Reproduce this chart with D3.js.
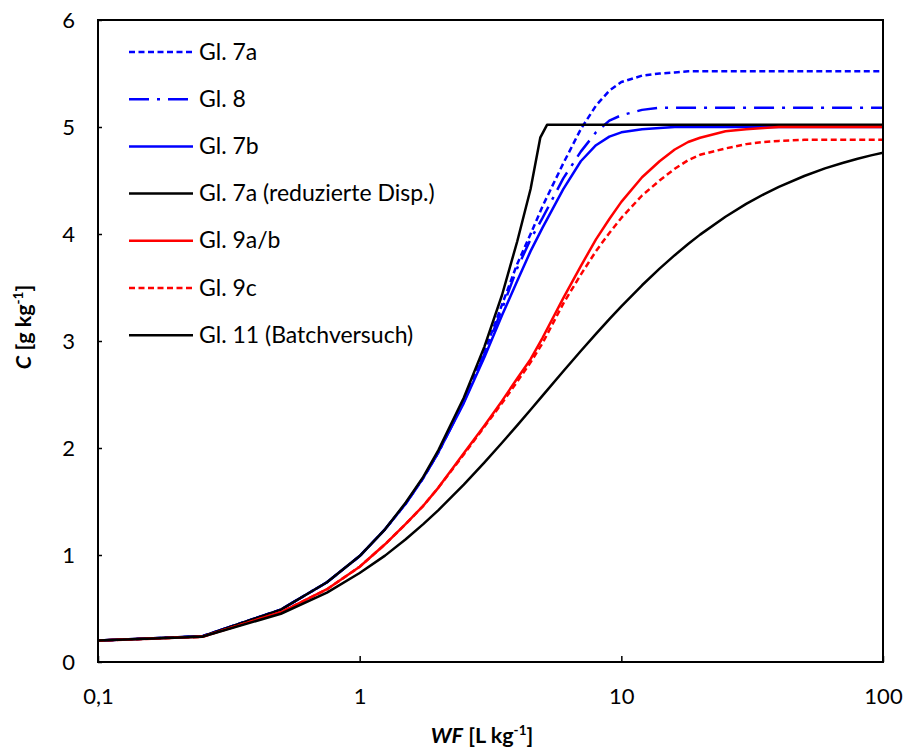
<!DOCTYPE html>
<html>
<head>
<meta charset="utf-8">
<script src="https://cdn.jsdelivr.net/npm/d3@7"></script>
<style>
  html, body { margin: 0; padding: 0; background: #fff; }
  svg { display: block; font-family: Lato, "Open Sans", sans-serif; }
</style>
</head>
<body>
<svg id="chart" width="904" height="751"></svg>
<script>
// ---- data ----
const wf = [0.1, 0.25, 0.5, 0.75, 1, 1.25, 1.5, 1.75, 2, 2.5, 3, 3.5, 4, 4.5, 5, 6, 7, 8, 9, 10, 12, 14, 16, 18, 20, 25, 30, 35, 40, 50, 60, 70, 80, 90, 100];
const wfReduced = [0.1, 0.25, 0.5, 0.75, 1, 1.25, 1.5, 1.75, 2, 2.5, 3, 3.5, 4, 4.5, 4.9, 5.2, 6, 10, 20, 50, 100];

const gl7a  = [0.2, 0.24, 0.49, 0.745, 0.99, 1.24, 1.48, 1.72, 1.96, 2.44, 2.9, 3.34, 3.72, 4.0, 4.26, 4.66, 4.98, 5.2, 5.34, 5.42, 5.48, 5.5, 5.51, 5.52, 5.52, 5.52, 5.52, 5.52, 5.52, 5.52, 5.52, 5.52, 5.52, 5.52, 5.52];
const gl8   = [0.2, 0.24, 0.49, 0.745, 0.99, 1.24, 1.48, 1.72, 1.96, 2.43, 2.88, 3.3, 3.68, 3.95, 4.15, 4.52, 4.77, 4.95, 5.06, 5.11, 5.16, 5.18, 5.18, 5.18, 5.18, 5.18, 5.18, 5.18, 5.18, 5.18, 5.18, 5.18, 5.18, 5.18, 5.18];
const gl7b  = [0.2, 0.24, 0.49, 0.745, 0.99, 1.24, 1.48, 1.72, 1.96, 2.42, 2.85, 3.24, 3.56, 3.84, 4.06, 4.42, 4.68, 4.83, 4.91, 4.95, 4.98, 4.99, 5.0, 5.0, 5.0, 5.0, 5.0, 5.0, 5.0, 5.0, 5.0, 5.0, 5.0, 5.0, 5.0];
const gl7aReduced = [0.2, 0.24, 0.49, 0.745, 0.99, 1.24, 1.49, 1.73, 1.98, 2.47, 2.95, 3.43, 3.93, 4.42, 4.9, 5.02, 5.02, 5.02, 5.02, 5.02, 5.02];
const gl9ab = [0.2, 0.235, 0.465, 0.68, 0.89, 1.1, 1.29, 1.46, 1.63, 1.95, 2.21, 2.44, 2.65, 2.83, 3.03, 3.4, 3.7, 3.95, 4.14, 4.3, 4.53, 4.68, 4.79, 4.86, 4.9, 4.96, 4.98, 4.99, 5.0, 5.0, 5.0, 5.0, 5.0, 5.0, 5.0];
const gl9c  = [0.2, 0.235, 0.465, 0.68, 0.89, 1.1, 1.29, 1.46, 1.63, 1.94, 2.2, 2.42, 2.62, 2.8, 2.98, 3.35, 3.62, 3.84, 4.01, 4.15, 4.36, 4.5, 4.61, 4.69, 4.74, 4.8, 4.84, 4.86, 4.87, 4.88, 4.88, 4.88, 4.88, 4.88, 4.88];
const gl11  = [0.2, 0.236, 0.451, 0.648, 0.832, 0.994, 1.147, 1.289, 1.42, 1.658, 1.866, 2.049, 2.212, 2.358, 2.49, 2.717, 2.907, 3.067, 3.205, 3.324, 3.521, 3.676, 3.802, 3.906, 3.994, 4.161, 4.281, 4.371, 4.44, 4.542, 4.613, 4.664, 4.704, 4.735, 4.76];

const seriesNames = ["Gl. 7a", "Gl. 8", "Gl. 7b", "Gl. 7a (reduzierte Disp.)", "Gl. 9a/b", "Gl. 9c", "Gl. 11 (Batchversuch)"];
const xTickValues = [0.1, 1, 10, 100];
const xTickLabels = ["0,1", "1", "10", "100"];
const yTickValues = [0, 1, 2, 3, 4, 5, 6];

// ---- styles ----
const series = [
  { name: seriesNames[0], x: wf, y: gl7a, color: "#0000ff", dash: "6,3.5" },
  { name: seriesNames[1], x: wf, y: gl8, color: "#0000ff", dash: "20,8,3,8" },
  { name: seriesNames[2], x: wf, y: gl7b, color: "#0000ff", dash: null },
  { name: seriesNames[3], x: wfReduced, y: gl7aReduced, color: "#000000", dash: null },
  { name: seriesNames[4], x: wf, y: gl9ab, color: "#ff0000", dash: null },
  { name: seriesNames[5], x: wf, y: gl9c, color: "#ff0000", dash: "6,3.5" },
  { name: seriesNames[6], x: wf, y: gl11, color: "#000000", dash: null }
];

const svg = d3.select("#chart");
const L = 98, R = 883, T = 20, B = 662;
const x = d3.scaleLog().domain([0.1, 100]).range([L, R]);
const y = d3.scaleLinear().domain([0, 6]).range([B, T]);

svg.append("defs").append("clipPath").attr("id", "clip")
  .append("rect").attr("x", L).attr("y", T).attr("width", R - L).attr("height", B - T);

// lines
const line = d3.line().x(d => x(d[0])).y(d => y(d[1]));
const gLines = svg.append("g").attr("clip-path", "url(#clip)");
series.forEach(s => {
  gLines.append("path")
    .datum(s.x.map((v, i) => [v, s.y[i]]))
    .attr("d", line)
    .attr("fill", "none")
    .attr("stroke", s.color)
    .attr("stroke-width", 2.5)
    .attr("stroke-dasharray", s.dash)
    .attr("stroke-linejoin", "round");
});

// axes
const yAxis = d3.axisLeft(y).tickValues(yTickValues).tickSize(-4).tickPadding(23).tickFormat(d3.format("d"));
const gy = svg.append("g").attr("transform", `translate(${L},0)`).call(yAxis);
const xAxis = d3.axisBottom(x).tickValues(xTickValues).tickSize(-6).tickPadding(26)
  .tickFormat((d, i) => xTickLabels[i]);
const gx = svg.append("g").attr("transform", `translate(0,${B})`).call(xAxis);
[gx, gy].forEach(g => {
  g.select(".domain").remove();
  g.selectAll(".tick line").attr("stroke", "#000").attr("stroke-width", 1.5);
  g.selectAll(".tick text").attr("fill", "#000").style("font-size", "22px").style("font-family", "Lato, sans-serif");
});

// frame
svg.append("rect").attr("x", L).attr("y", T).attr("width", R - L).attr("height", B - T)
  .attr("fill", "none").attr("stroke", "#000").attr("stroke-width", 2);

// legend
const legend = svg.append("g");
series.forEach((s, i) => {
  const yy = 52 + i * 47.2;
  legend.append("line").attr("x1", 129).attr("x2", 193).attr("y1", yy).attr("y2", yy)
    .attr("stroke", s.color).attr("stroke-width", 2.5).attr("stroke-dasharray", s.dash);
  legend.append("text").attr("x", 199).attr("y", yy + 7.5).text(s.name)
    .style("font-size", "23px").attr("fill", "#000");
});

// axis titles
const xt = svg.append("text").attr("x", 482).attr("y", 743).attr("text-anchor", "middle")
  .style("font-size", "21.5px").style("font-weight", "bold").attr("fill", "#000");
xt.append("tspan").style("font-style", "italic").text("WF");
xt.append("tspan").text(" [L kg");
xt.append("tspan").attr("dy", -8).style("font-size", "13.5px").text("-1");
xt.append("tspan").attr("dy", 8).text("]");

const yt = svg.append("text").attr("transform", "translate(31,327) rotate(-90)").attr("text-anchor", "middle")
  .style("font-size", "21.5px").style("font-weight", "bold").attr("fill", "#000");
yt.append("tspan").style("font-style", "italic").text("C");
yt.append("tspan").text(" [g kg");
yt.append("tspan").attr("dy", -8).style("font-size", "13.5px").text("-1");
yt.append("tspan").attr("dy", 8).text("]");
</script>
</body>
</html>
